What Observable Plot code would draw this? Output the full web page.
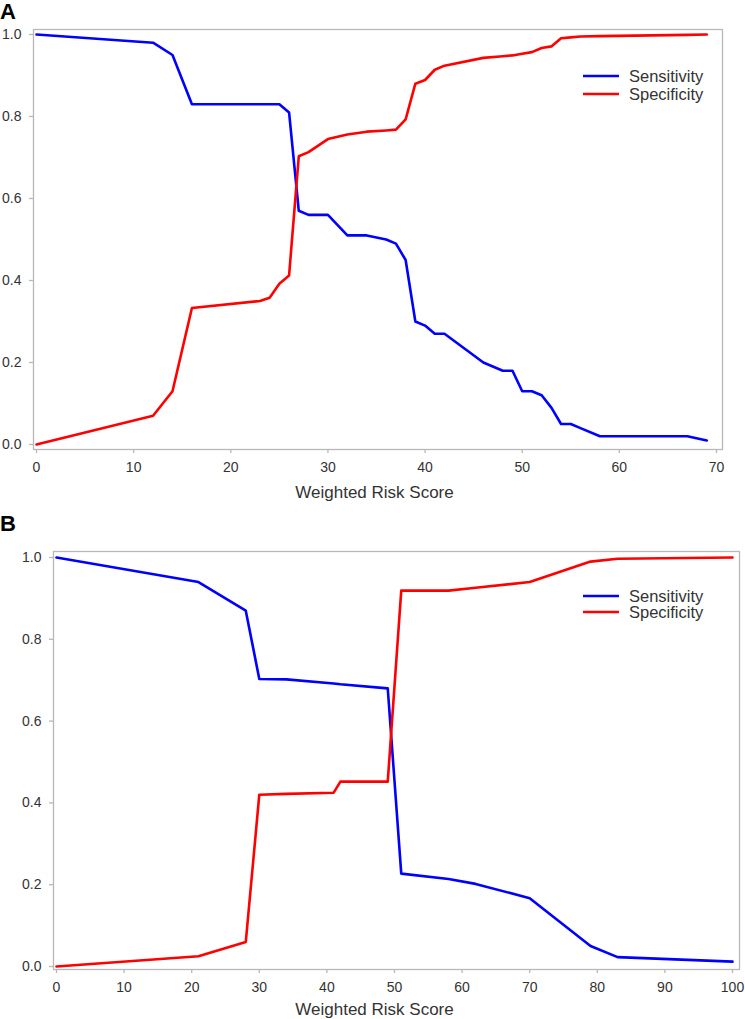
<!DOCTYPE html>
<html>
<head>
<meta charset="utf-8">
<script src="https://cdn.jsdelivr.net/npm/d3@7"></script>
<script src="https://cdn.jsdelivr.net/npm/@observablehq/plot@0.6"></script>
<style>
  html, body { margin: 0; padding: 0; background: #fff; }
  #root { position: relative; width: 745px; height: 1019px; background: #fff; font-family: "Liberation Sans", Arial, sans-serif; overflow: hidden; }
  .abs { position: absolute; }
  .letter { font-weight: bold; font-size: 22px; line-height: 22px; color: #000; }
  .xlabel { font-size: 17px; line-height: 17px; color: #333; width: 745px; text-align: center; }
</style>
</head>
<body>
<div id="root"></div>
<script>
// ---------- Panel A data ----------
const scoreA = [0, 12, 14, 16, 23, 24, 25, 26, 27, 28, 30, 32, 34, 36, 37, 38, 39, 40, 41, 42, 46, 48, 49, 50, 51, 52, 53, 54, 55, 56, 58, 67, 69];
const sensA  = [1.0, 0.98, 0.95, 0.83, 0.83, 0.83, 0.83, 0.81, 0.57, 0.56, 0.56, 0.51, 0.51, 0.50, 0.49, 0.45, 0.30, 0.29, 0.27, 0.27, 0.20, 0.18, 0.18, 0.13, 0.13, 0.12, 0.09, 0.05, 0.05, 0.04, 0.02, 0.02, 0.01];
const specA  = [0.0, 0.07, 0.13, 0.333, 0.35, 0.358, 0.392, 0.412, 0.703, 0.713, 0.745, 0.756, 0.763, 0.766, 0.768, 0.793, 0.88, 0.889, 0.914, 0.924, 0.943, 0.947, 0.949, 0.953, 0.957, 0.967, 0.971, 0.991, 0.993, 0.995, 0.996, 0.999, 1.0];
const xTicksA = [0, 10, 20, 30, 40, 50, 60, 70];

// ---------- Panel B data ----------
const scoreB = [0, 21, 28, 30, 34, 41, 42, 49, 51, 58, 62, 70, 79, 83, 100];
const sensB  = [1.0, 0.94, 0.87, 0.703, 0.702, 0.692, 0.690, 0.680, 0.227, 0.214, 0.202, 0.167, 0.05, 0.023, 0.012];
const specB  = [0.0, 0.025, 0.06, 0.42, 0.422, 0.425, 0.452, 0.452, 0.919, 0.919, 0.926, 0.94, 0.99, 0.997, 1.0];
const xTicksB = [0, 10, 20, 30, 40, 50, 60, 70, 80, 90, 100];

const yTicks = [0, 0.2, 0.4, 0.6, 0.8, 1.0];
const seriesNames = ["Sensitivity", "Specificity"];
const seriesColors = ["#0000ff", "#ff0000"];
const xLabel = "Weighted Risk Score";

const FONT = "\"Liberation Sans\", Arial, sans-serif";
const root = document.getElementById("root");

function panel(score, sens, spec, xTicks, xMax, dims) {
  const rows = score.map((s, i) => ({score: s, sens: sens[i], spec: spec[i]}));
  const chart = Plot.plot({
    width: 745,
    height: dims.height,
    marginTop: dims.mt, marginBottom: dims.mb, marginLeft: dims.ml, marginRight: dims.mr,
    insetTop: dims.it, insetBottom: dims.ib, insetLeft: dims.il, insetRight: dims.ir,
    x: {domain: [0, xMax]},
    y: {domain: [0, 1]},
    style: {fontFamily: FONT, fontSize: "14px", color: "#333", background: "transparent"},
    marks: [
      Plot.frame({stroke: "#b8b8b8", strokeWidth: 1.3}),
      Plot.axisX(xTicks, {tickSize: 4, tickPadding: 9, stroke: "#b8b8b8", fill: "#333", label: null, strokeWidth: 1.3}),
      Plot.axisY(yTicks, {tickSize: 4, tickPadding: 8, stroke: "#b8b8b8", fill: "#333", label: null, tickFormat: d3.format(".1f"), strokeWidth: 1.3}),
      Plot.line(rows, {x: "score", y: "sens", stroke: seriesColors[0], strokeWidth: 2.6}),
      Plot.line(rows, {x: "score", y: "spec", stroke: seriesColors[1], strokeWidth: 2.6})
    ]
  });
  chart.classList.add("abs");
  chart.style.left = "0px";
  chart.style.top = dims.top + "px";
  root.appendChild(chart);
}

function legend(left, top, spacing) {
  const svg = d3.create("svg")
    .attr("width", 160).attr("height", 50)
    .attr("class", "abs")
    .style("left", left + "px").style("top", top + "px")
    .style("overflow", "visible");
  seriesNames.forEach((name, i) => {
    const y = 10 + i * spacing;
    svg.append("line").attr("x1", 0).attr("x2", 36).attr("y1", y).attr("y2", y)
      .attr("stroke", seriesColors[i]).attr("stroke-width", 2.6);
    svg.append("text").attr("x", 46).attr("y", y + 6.3)
      .attr("font-family", FONT).attr("font-size", "16.5px").attr("fill", "#333")
      .text(name);
  });
  root.appendChild(svg.node());
}

function textDiv(cls, txt, top, left) {
  const d = document.createElement("div");
  d.className = "abs " + cls;
  d.textContent = txt;
  d.style.top = top + "px";
  if (left !== undefined) d.style.left = left + "px";
  root.appendChild(d);
}

// Panel A
panel(scoreA, sensA, specA, xTicksA, 70,
  {top: 0, height: 480, mt: 29, mb: 31, ml: 33, mr: 23, it: 5, ib: 5, il: 3, ir: 6});
legend(583, 66, 18);
textDiv("letter", "A", 1, 0);
textDiv("xlabel", xLabel, 484, 2);

// Panel B
panel(scoreB, sensB, specB, xTicksB, 100,
  {top: 500, height: 519, mt: 51, mb: 50, ml: 53, mr: 6, it: 6, ib: 3, il: 3, ir: 7});
legend(583, 586, 16);
textDiv("letter", "B", 513, 0);
textDiv("xlabel", xLabel, 1001, 2);
</script>
</body>
</html>
